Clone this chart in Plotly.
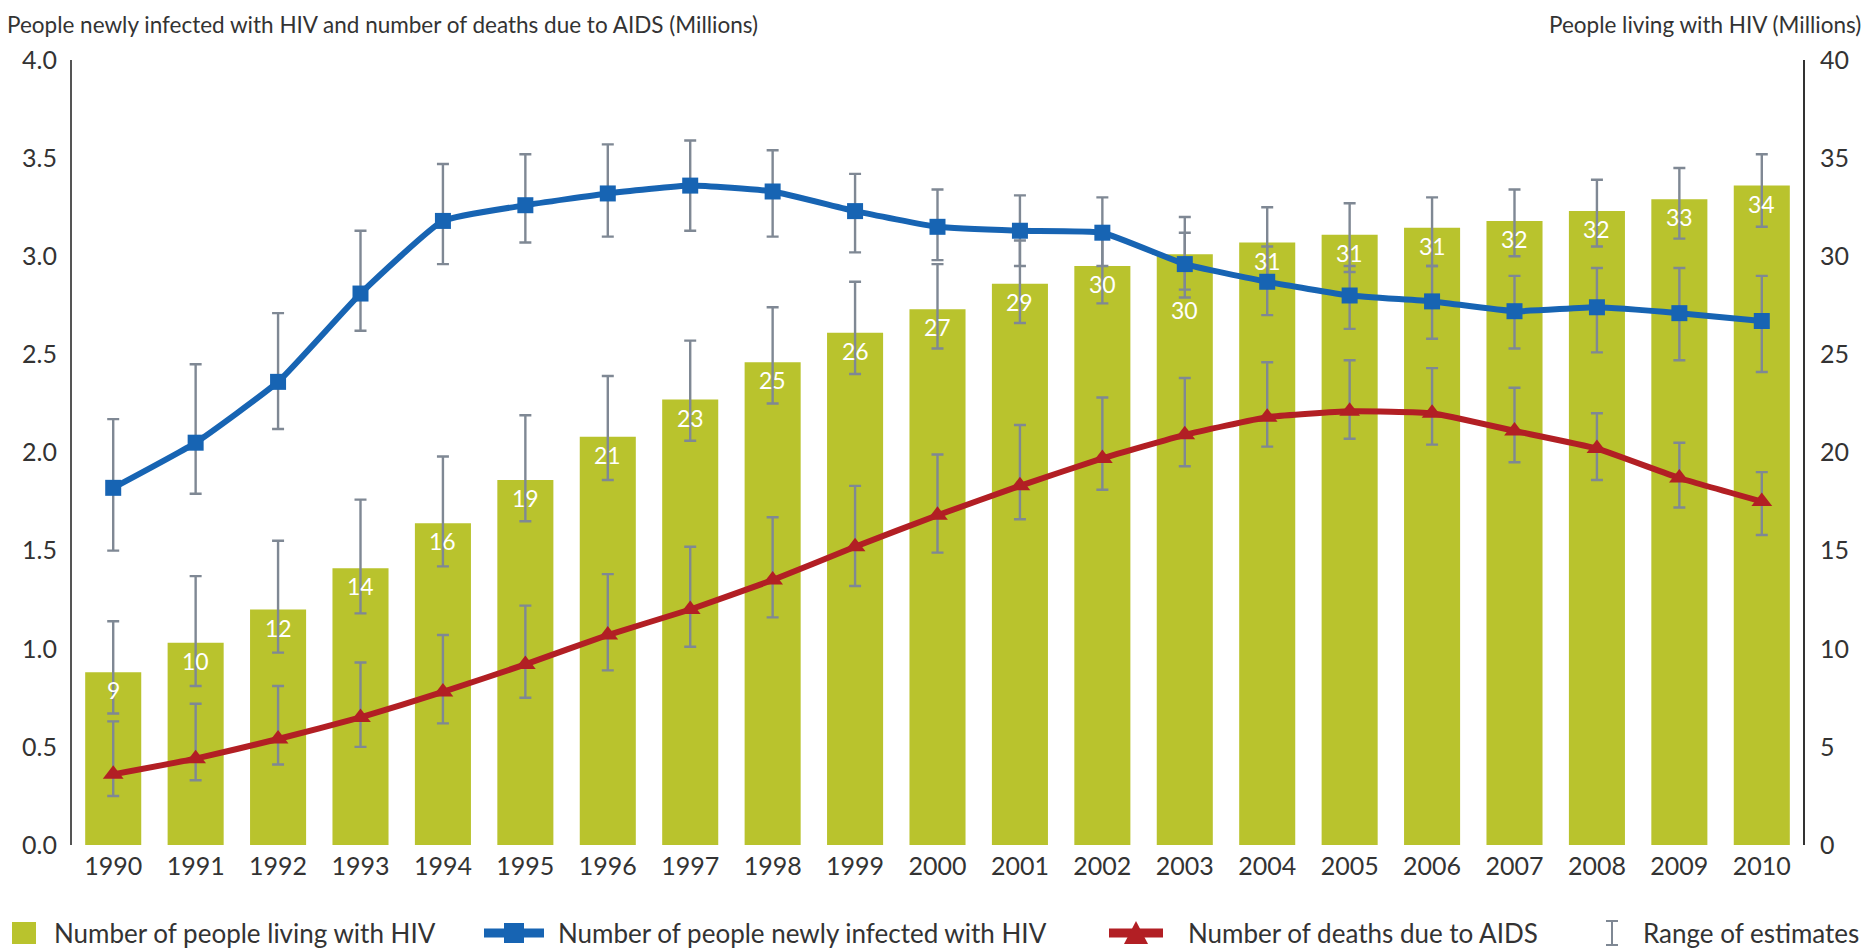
import plotly.graph_objects as go

# ---------------- data ----------------
years = [str(y) for y in range(1990, 2011)]

living = [8.8, 10.3, 12.0, 14.1, 16.4, 18.6, 20.8, 22.7, 24.6, 26.1, 27.3,
          28.6, 29.5, 30.1, 30.7, 31.1, 31.45, 31.8, 32.3, 32.9, 33.6]
living_low = [6.7, 8.1, 9.8, 11.8, 14.2, 16.5, 18.6, 20.6, 22.5, 24.0, 25.3,
              26.6, 27.6, 27.9, 28.8, 29.2, 29.5, 30.0, 30.5, 30.9, 31.5]
living_high = [11.4, 13.7, 15.5, 17.6, 19.8, 21.9, 23.9, 25.7, 27.4, 28.7, 29.6,
               30.8, 31.3, 31.2, 32.5, 32.7, 33.0, 33.4, 33.9, 34.5, 35.2]
living_labels = ["9", "10", "12", "14", "16", "19", "21", "23", "25", "26", "27",
                 "29", "30", "30", "31", "31", "31", "32", "32", "33", "34"]

new_inf = [1.82, 2.05, 2.36, 2.81, 3.18, 3.26, 3.32, 3.36, 3.33, 3.23, 3.15,
           3.13, 3.12, 2.96, 2.87, 2.80, 2.77, 2.72, 2.74, 2.71, 2.67]
new_low = [1.50, 1.79, 2.12, 2.62, 2.96, 3.07, 3.10, 3.13, 3.10, 3.02, 2.98,
           2.95, 2.95, 2.83, 2.70, 2.63, 2.58, 2.53, 2.51, 2.47, 2.41]
new_high = [2.17, 2.45, 2.71, 3.13, 3.47, 3.52, 3.57, 3.59, 3.54, 3.42, 3.34,
            3.31, 3.30, 3.20, 3.05, 2.95, 2.95, 2.90, 2.94, 2.94, 2.90]

deaths = [0.36, 0.44, 0.54, 0.65, 0.78, 0.92, 1.07, 1.20, 1.35, 1.52, 1.68,
          1.83, 1.97, 2.09, 2.18, 2.21, 2.20, 2.11, 2.02, 1.87, 1.75]
deaths_low = [0.25, 0.33, 0.41, 0.50, 0.62, 0.75, 0.89, 1.01, 1.16, 1.32, 1.49,
              1.66, 1.81, 1.93, 2.03, 2.07, 2.04, 1.95, 1.86, 1.72, 1.58]
deaths_high = [0.63, 0.72, 0.81, 0.93, 1.07, 1.22, 1.38, 1.52, 1.67, 1.83, 1.99,
               2.14, 2.28, 2.38, 2.46, 2.47, 2.43, 2.33, 2.20, 2.05, 1.90]

left_title = "People newly infected with HIV and number of deaths due to AIDS (Millions)"
right_title = "People living with HIV (Millions)"
legend_labels = ["Number of people living with HIV",
                 "Number of people newly infected with HIV",
                 "Number of deaths due to AIDS",
                 "Range of estimates"]

# ---------------- styling ----------------
OFF = 8                      # page body margin of the html page
W, H = 1870 - OFF, 950 - OFF
ML, MT = 72 - OFF, 60 - OFF
MR = W - (1803 - OFF)
MB = H - (845 - OFF)
PW, PH = W - ML - MR, H - MT - MB
FONT = "Lato, 'Open Sans', sans-serif"
TXT = "#333333"
GREEN = "#b9c32d"
BLUE = "#1764b3"
RED = "#b21f24"
ERR = "#7f8894"
LABEL_SHIFT = {"2003": -40}   # label moved below the blue line in the original


def px(x):
    """reference-window pixel x -> paper"""
    return (x - OFF - ML) / PW


def py(y):
    """reference-window pixel y -> paper"""
    return (H - MB - (y - OFF)) / PH


def err(vals, lo, hi):
    return dict(type="data", symmetric=False,
                array=[h - v for v, h in zip(vals, hi)],
                arrayminus=[v - l for v, l in zip(vals, lo)],
                color=ERR, thickness=2.4, width=6)


fig = go.Figure()

fig.add_trace(go.Bar(
    x=years, y=living, yaxis="y", name=legend_labels[0],
    marker=dict(color=GREEN, line=dict(width=0)),
    error_y=err(living, living_low, living_high),
    showlegend=False,
))

fig.add_trace(go.Scatter(
    x=years, y=new_inf, yaxis="y2", name=legend_labels[1],
    mode="lines+markers",
    line=dict(color=BLUE, width=6, shape="spline", smoothing=0.4),
    marker=dict(symbol="square", size=16, color=BLUE),
    error_y=err(new_inf, new_low, new_high),
    showlegend=False,
))

fig.add_trace(go.Scatter(
    x=years, y=deaths, yaxis="y2", name=legend_labels[2],
    mode="lines+markers",
    line=dict(color=RED, width=6, shape="spline", smoothing=0.4),
    marker=dict(symbol="triangle-up", size=18, color=RED),
    error_y=err(deaths, deaths_low, deaths_high),
    showlegend=False,
))

shapes = []
annotations = []

# bar value labels (white, just inside the top of each bar);
# category axis positions are given by category index
for i, (yr, v, lbl) in enumerate(zip(years, living, living_labels)):
    annotations.append(dict(text=lbl, x=i, y=v, xref="x", yref="y",
                            xanchor="center", yanchor="top", showarrow=False,
                            yshift=LABEL_SHIFT.get(yr, -2),
                            font=dict(family=FONT, size=23, color="white")))

# ---------------- legend (drawn) ----------------
LY = 933
shapes.append(dict(type="rect", xref="paper", yref="paper",
                   x0=px(12), x1=px(36), y0=py(944), y1=py(922),
                   fillcolor=GREEN, line=dict(width=0)))
shapes.append(dict(type="line", xref="paper", yref="paper",
                   x0=px(484), x1=px(544), y0=py(LY), y1=py(LY),
                   line=dict(color=BLUE, width=9)))
shapes.append(dict(type="rect", xref="paper", yref="paper",
                   x0=px(504), x1=px(524), y0=py(943), y1=py(923),
                   fillcolor=BLUE, line=dict(width=0)))
shapes.append(dict(type="line", xref="paper", yref="paper",
                   x0=px(1109), x1=px(1163), y0=py(LY), y1=py(LY),
                   line=dict(color=RED, width=9)))
shapes.append(dict(type="path", xref="paper", yref="paper",
                   path="M {} {} L {} {} L {} {} Z".format(px(1124), py(944), px(1148), py(944), px(1136), py(921)),
                   fillcolor=RED, line=dict(width=0)))
for (x0, y0, x1, y1) in [(1612, 921, 1612, 945), (1606, 921, 1618, 921), (1606, 945, 1618, 945)]:
    shapes.append(dict(type="line", xref="paper", yref="paper",
                       x0=px(x0), x1=px(x1), y0=py(y0), y1=py(y1),
                       line=dict(color=ERR, width=2)))

for lbl, x in zip(legend_labels, [52, 556, 1186, 1641]):
    annotations.append(dict(text=lbl, xref="paper", yref="paper", x=px(x), y=py(LY),
                            xanchor="left", yanchor="middle", showarrow=False,
                            font=dict(family=FONT, size=26, color=TXT)))

annotations.append(dict(text=left_title, xref="paper", yref="paper", x=px(6), y=py(OFF + 2),
                        xanchor="left", yanchor="top", showarrow=False, borderpad=0,
                        font=dict(family=FONT, size=22.5, color=TXT)))
annotations.append(dict(text=right_title, xref="paper", yref="paper", x=px(1862), y=py(OFF + 2),
                        xanchor="right", yanchor="top", showarrow=False, borderpad=0,
                        font=dict(family=FONT, size=22.5, color=TXT)))

fig.update_layout(
    width=W, height=H,
    margin=dict(l=ML, r=MR, t=MT, b=MB, pad=0),
    paper_bgcolor="white", plot_bgcolor="white",
    font=dict(family=FONT, color=TXT, size=25),
    bargap=0.32,
    xaxis=dict(type="category", showgrid=False, zeroline=False, showline=False,
               ticks="", ticklabelstandoff=4, tickfont=dict(size=25, color=TXT),
               range=[-0.5, 20.5]),
    yaxis=dict(side="right", range=[0, 40], dtick=5, showgrid=False, zeroline=False,
               showline=True, linecolor="#333333", linewidth=2, ticks="",
               ticklabelstandoff=10, tickfont=dict(size=25, color=TXT)),
    yaxis2=dict(side="left", overlaying="y", range=[0, 4], dtick=0.5, tickformat=".1f",
                showgrid=False, zeroline=False, showline=True, linecolor="#555555",
                linewidth=2, ticks="", ticklabelstandoff=8,
                tickfont=dict(size=25, color=TXT)),
    shapes=shapes, annotations=annotations,
    showlegend=False,
)

fig.write_html("out.html")
